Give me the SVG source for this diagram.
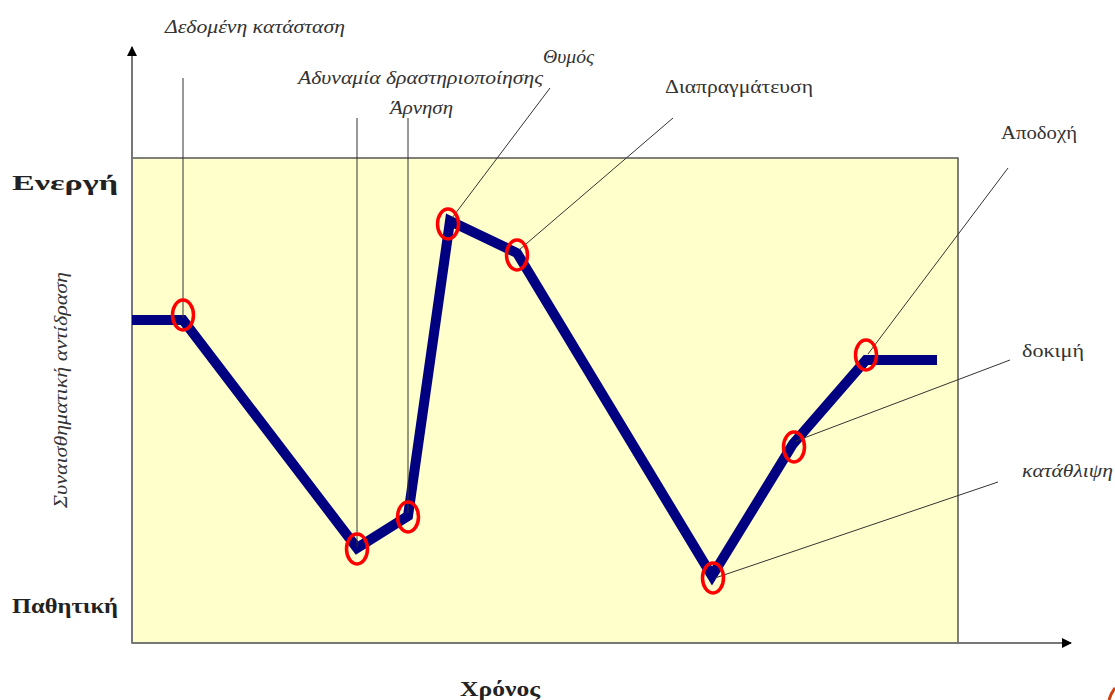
<svg xmlns="http://www.w3.org/2000/svg" width="1115" height="700" viewBox="0 0 1115 700">
<defs>
<style>
.lbl{font-family:"Liberation Serif","DejaVu Serif",serif;font-size:18px;fill:#333}
.it{font-style:italic}
.bold{font-family:"Liberation Serif","DejaVu Serif",serif;font-size:22px;font-weight:bold;fill:#222}
.lead{stroke:#333;stroke-width:1;fill:none}
.ring{fill:none;stroke:#ff0000;stroke-width:3.5}
.axis{stroke:#777;stroke-width:2;fill:none}
</style>
<marker id="ah" viewBox="0 0 10 10" refX="9" refY="5" markerWidth="10" markerHeight="10" markerUnits="userSpaceOnUse" orient="auto">
<path d="M0,0 L10,5 L0,10 Z" fill="#000"/>
</marker>
</defs>
<rect width="1115" height="700" fill="#fff"/>
<g id="plot-area">
<rect x="132" y="158" width="826" height="485" fill="#ffffcc" stroke="#555" stroke-width="1.5"/>
</g>
<g id="axes">
<line class="axis" x1="132" y1="643" x2="132" y2="47" marker-end="url(#ah)"/>
<line class="axis" x1="132" y1="643" x2="1071" y2="643" marker-end="url(#ah)"/>
</g>
<g id="axis-labels">
<text class="bold" x="12" y="190" textLength="106" lengthAdjust="spacingAndGlyphs">Ενεργή</text>
<text class="bold" x="12" y="613" textLength="106" lengthAdjust="spacingAndGlyphs">Παθητική</text>
<text class="bold" x="500" y="696" text-anchor="middle" textLength="80" lengthAdjust="spacingAndGlyphs">Χρόνος</text>
<text class="lbl it" transform="translate(67,390) rotate(-90)" text-anchor="middle" textLength="236" lengthAdjust="spacingAndGlyphs">Συναισθηματική αντίδραση</text>
</g>
<g id="connectors">
<polyline points="132,320 183,320 357,548 408,516 450,221 517,253 712,576 793,444 866,360 937,360" fill="none" stroke="#000080" stroke-width="10" stroke-linejoin="miter" stroke-miterlimit="2.5"/>
</g>
<g id="node-dedomeni">
<line class="lead" x1="183" y1="78" x2="183" y2="318"/>
<ellipse class="ring" cx="183" cy="315" rx="10.5" ry="15"/>
<text class="lbl it" x="165" y="33" textLength="180" lengthAdjust="spacingAndGlyphs">Δεδομένη κατάσταση</text>
</g>
<g id="node-adynamia">
<line class="lead" x1="357" y1="118" x2="357" y2="547"/>
<ellipse class="ring" cx="357" cy="549" rx="10.5" ry="15"/>
<text class="lbl it" x="298" y="84" textLength="245" lengthAdjust="spacingAndGlyphs">Αδυναμία δραστηριοποίησης</text>
</g>
<g id="node-arnisi">
<line class="lead" x1="408" y1="118" x2="408" y2="513"/>
<ellipse class="ring" cx="408" cy="517" rx="10.5" ry="15"/>
<text class="lbl it" x="390" y="114" textLength="63" lengthAdjust="spacingAndGlyphs">Άρνηση</text>
</g>
<g id="node-thymos">
<line class="lead" x1="550" y1="88" x2="452" y2="218"/>
<ellipse class="ring" cx="448" cy="224" rx="10.5" ry="15"/>
<text class="lbl it" x="543" y="63" textLength="51" lengthAdjust="spacingAndGlyphs">Θυμός</text>
</g>
<g id="node-diapragmateusi">
<line class="lead" x1="673" y1="118" x2="519" y2="250"/>
<ellipse class="ring" cx="517" cy="255" rx="10.5" ry="15"/>
<text class="lbl" x="665" y="93" textLength="148" lengthAdjust="spacingAndGlyphs">Διαπραγμάτευση</text>
</g>
<g id="node-katathlipsi">
<line class="lead" x1="998" y1="482" x2="715" y2="578"/>
<ellipse class="ring" cx="713" cy="578" rx="10.5" ry="15"/>
<text class="lbl it" x="1022" y="477" textLength="91" lengthAdjust="spacingAndGlyphs">κατάθλιψη</text>
</g>
<g id="node-dokimi">
<line class="lead" x1="1010" y1="360" x2="796" y2="441"/>
<ellipse class="ring" cx="794" cy="447" rx="10.5" ry="15"/>
<text class="lbl" x="1022" y="357" textLength="62" lengthAdjust="spacingAndGlyphs">δοκιμή</text>
</g>
<g id="node-apodochi">
<line class="lead" x1="1008" y1="168" x2="868" y2="354"/>
<ellipse class="ring" cx="866" cy="355" rx="10.5" ry="15"/>
<text class="lbl" x="1001" y="139" textLength="76" lengthAdjust="spacingAndGlyphs">Αποδοχή</text>
</g>
<path d="M1109,700 Q1111,693 1115,688" fill="none" stroke="#d04010" stroke-width="3"/>
</svg>
